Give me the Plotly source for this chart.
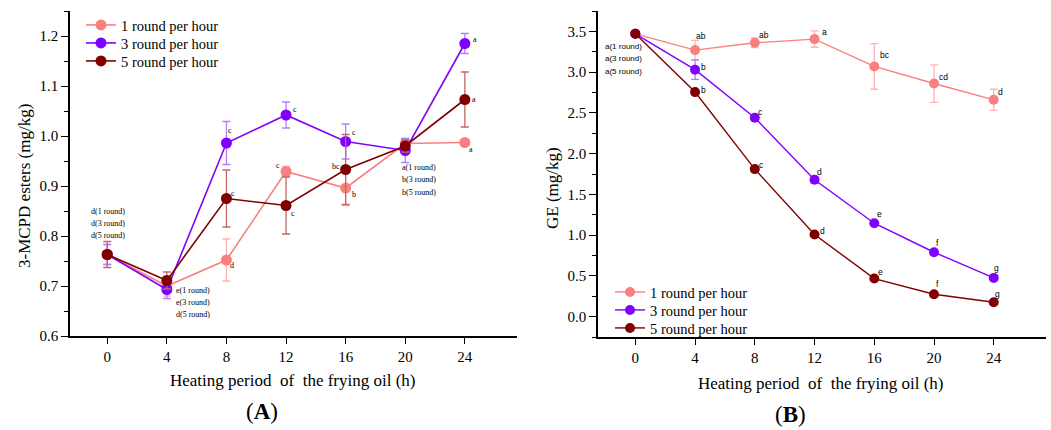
import plotly.graph_objects as go

hours = [0, 4, 8, 12, 16, 20, 24]
series_names = ["1 round per hour", "3 round per hour", "5 round per hour"]

# Panel A: 3-MCPD esters (mg/kg)
mcpd_1 = [0.763, 0.700, 0.752, 0.929, 0.896, 0.985, 0.987]
mcpd_3 = [0.763, 0.693, 0.986, 1.042, 0.989, 0.971, 1.185]
mcpd_5 = [0.763, 0.711, 0.875, 0.861, 0.933, 0.980, 1.073]
mcpd_1_err = [0.020, 0.020, 0.042, 0.010, 0.035, 0.010, 0.005]
mcpd_3_err = [0.020, 0.018, 0.043, 0.026, 0.035, 0.024, 0.020]
mcpd_5_err = [0.026, 0.017, 0.057, 0.057, 0.070, 0.012, 0.055]
mcpd_1_letters = ["", "", "d", "c", "b", "", "a"]
mcpd_3_letters = ["", "", "c", "c", "c", "", "a"]
mcpd_5_letters = ["", "", "c", "c", "bc", "", "a"]
mcpd_group_0 = ["d(1 round)", "d(3 round)", "d(5 round)"]
mcpd_group_4 = ["e(1 round)", "e(3 round)", "d(5 round)"]
mcpd_group_20 = ["a(1 round)", "b(3 round)", "b(5 round)"]

# Panel B: GE (mg/kg)
ge_1 = [3.47, 3.27, 3.36, 3.405, 3.07, 2.86, 2.66]
ge_3 = [3.47, 3.03, 2.44, 1.68, 1.146, 0.79, 0.475]
ge_5 = [3.47, 2.755, 1.81, 1.007, 0.467, 0.274, 0.176]
ge_1_err = [0.0, 0.12, 0.06, 0.10, 0.28, 0.23, 0.13]
ge_3_err = [0.0, 0.12, 0.03, 0.04, 0.02, 0.02, 0.02]
ge_5_err = [0.0, 0.02, 0.02, 0.02, 0.02, 0.02, 0.02]
ge_1_letters = ["", "ab", "ab", "a", "bc", "cd", "d"]
ge_3_letters = ["", "b", "c", "d", "e", "f", "g"]
ge_5_letters = ["", "b", "c", "d", "e", "f", "g"]
ge_group_0 = ["a(1 round)", "a(3 round)", "a(5 round)"]

colors = ["#FA8080", "#8000FF", "#800000"]
err_colors = ["#FFB4B4", "#B77DFF", "#C06868"]

SERIF = "Liberation Serif"
SANS = "Liberation Sans"

fig = go.Figure()

W, H = 1051, 430
def px_x(p):
    return p / W
def px_y(p):
    return 1 - p / H

A_vals = [mcpd_1, mcpd_3, mcpd_5]
A_errs = [mcpd_1_err, mcpd_3_err, mcpd_5_err]
B_vals = [ge_1, ge_3, ge_5]
B_errs = [ge_1_err, ge_3_err, ge_5_err]

# one single-entry legend per trace, so entries can be spaced like the original
legend_ids_A = ["legend", "legend2", "legend3"]
legend_ids_B = ["legend4", "legend5", "legend6"]

for i in range(3):
    fig.add_trace(go.Scatter(
        x=hours, y=A_vals[i], mode="lines+markers", name=series_names[i],
        line=dict(color=colors[i], width=1.6),
        marker=dict(color=colors[i], size=11),
        error_y=dict(type="data", array=A_errs[i], color=err_colors[i], thickness=1.3, width=4),
        xaxis="x", yaxis="y", legend=legend_ids_A[i]))
for i in range(3):
    fig.add_trace(go.Scatter(
        x=hours, y=B_vals[i], mode="lines+markers", name=series_names[i],
        line=dict(color=colors[i], width=1.4),
        marker=dict(color=colors[i], size=10),
        error_y=dict(type="data", array=B_errs[i], color=err_colors[i], thickness=1.3, width=4),
        xaxis="x2", yaxis="y2", legend=legend_ids_B[i]))

axis_common = dict(showline=True, linecolor="black", linewidth=1.6, ticks="outside",
                   tickcolor="black", tickwidth=1.4, showgrid=False, zeroline=False,
                   automargin=False,
                   tickfont=dict(family=SERIF, size=15, color="black"))

fig.update_layout(
    width=W, height=H, margin=dict(l=0, r=0, t=0, b=0, pad=0, autoexpand=False),
    paper_bgcolor="white", plot_bgcolor="white", showlegend=True,
    xaxis=dict(domain=[px_x(70), px_x(517)], range=[-2.5, 27.5], tickvals=hours,
               ticklen=6, anchor="y", **axis_common),
    yaxis=dict(domain=[px_y(336), px_y(11)], range=[0.6, 1.25], dtick=0.1, tick0=0.6,
               tickformat=".1f", ticklen=7, anchor="x",
               minor=dict(dtick=0.05, ticks="outside", ticklen=4, tickcolor="black", tickwidth=1.2),
               **axis_common),
    xaxis2=dict(domain=[px_x(598), px_x(1046)], range=[-2.5, 27.5], tickvals=hours,
                ticklen=6, anchor="y2", **axis_common),
    yaxis2=dict(domain=[px_y(337), px_y(11)], range=[-0.25, 3.75], dtick=0.5, tick0=0,
                tickformat=".1f", ticklen=7, anchor="x2",
                minor=dict(dtick=0.25, ticks="outside", ticklen=4, tickcolor="black", tickwidth=1.2),
                **axis_common),
)

legend_rows_A = [25, 43, 61]
legend_rows_B = [292, 310, 328]
for lid, row in zip(legend_ids_A, legend_rows_A):
    fig.update_layout({lid: dict(x=px_x(81), y=px_y(row), xanchor="left", yanchor="middle",
                                 font=dict(family=SERIF, size=14.5, color="black"),
                                 bgcolor="rgba(0,0,0,0)", itemwidth=30)})
for lid, row in zip(legend_ids_B, legend_rows_B):
    fig.update_layout({lid: dict(x=px_x(610), y=px_y(row), xanchor="left", yanchor="middle",
                                 font=dict(family=SERIF, size=14.5, color="black"),
                                 bgcolor="rgba(0,0,0,0)", itemwidth=30)})

ann = []
def small(x, y, text, xref, yref, family, size=8, xs=0, ys=0, xanchor="center"):
    ann.append(dict(x=x, y=y, text=text, xref=xref, yref=yref, showarrow=False,
                    font=dict(family=family, size=size, color="black"),
                    xshift=xs, yshift=ys, xanchor=xanchor, yanchor="middle"))

# Panel A letters
A_letters = [mcpd_1_letters, mcpd_3_letters, mcpd_5_letters]
A_shifts = [
    [None, None, (6, -5), (-8, 6), (8, -6), None, (6, -7)],
    [None, None, (4, 13), (9, 5), (8, 9), None, (10, 4)],
    [None, None, (7, 5), (7, -8), (-10, 3), None, (9, 0)],
]
for s in range(3):
    for j, h in enumerate(hours):
        t = A_letters[s][j]
        if t:
            xs, ys = A_shifts[s][j]
            small(h, A_vals[s][j], t, "x", "y", SERIF, 8, xs, ys)

# Panel A group labels (positioned relative to the first point of the group)
for k, t in enumerate(mcpd_group_0):
    small(hours[0], mcpd_1[0], t, "x", "y", SERIF, 8, 1, 43.5 - 12 * k)
for k, t in enumerate(mcpd_group_4):
    small(hours[1], mcpd_1[1], t, "x", "y", SERIF, 8, 26, -4 - 12 * k)
for k, t in enumerate(mcpd_group_20):
    small(hours[5], mcpd_1[5], t, "x", "y", SERIF, 8, 14, -23.5 - 12.5 * k)

# Panel B letters
B_letters = [ge_1_letters, ge_3_letters, ge_5_letters]
B_shifts = [
    [None, (6, 14), (9, 8), (10, 7), (11, 11), (9, 7), (7, 8)],
    [None, (8, 3), (6, 6), (5, 8), (5, 9), (3, 9), (3, 10)],
    [None, (8, 2), (7, 4), (8, 4), (6, 7), (3, 10), (4, 8)],
]
for s in range(3):
    for j, h in enumerate(hours):
        t = B_letters[s][j]
        if t:
            xs, ys = B_shifts[s][j]
            small(h, B_vals[s][j], t, "x2", "y2", SANS, 8.5, xs, ys)
for k, t in enumerate(ge_group_0):
    small(hours[0], ge_1[0], t, "x2", "y2", SANS, 8, -12, -12.5 - 12.5 * k)

# Axis titles & panel labels
def paper_text(xp, yp, text, font, angle=0):
    ann.append(dict(x=px_x(xp), y=px_y(yp), xref="paper", yref="paper", showarrow=False,
                    text=text, font=font, textangle=angle, xanchor="center", yanchor="middle"))

title_font = dict(family=SERIF, size=17, color="black")
paper_text(293, 380, "Heating period  of  the frying oil (h)", title_font)
paper_text(821, 383, "Heating period  of  the frying oil (h)", title_font)
paper_text(25, 186, "3-MCPD esters (mg/kg)", title_font, -90)
paper_text(552, 188, "GE (mg/kg)", title_font, -90)
paper_text(262, 411, "(<b>A</b>)", dict(family=SERIF, size=23, color="black"))
paper_text(790, 414, "(<b>B</b>)", dict(family=SERIF, size=23, color="black"))

fig.update_layout(annotations=ann)
fig.write_html("out.html", config={"displayModeBar": False},
               post_script="document.body.style.margin='0px';document.body.style.overflow='hidden';")
